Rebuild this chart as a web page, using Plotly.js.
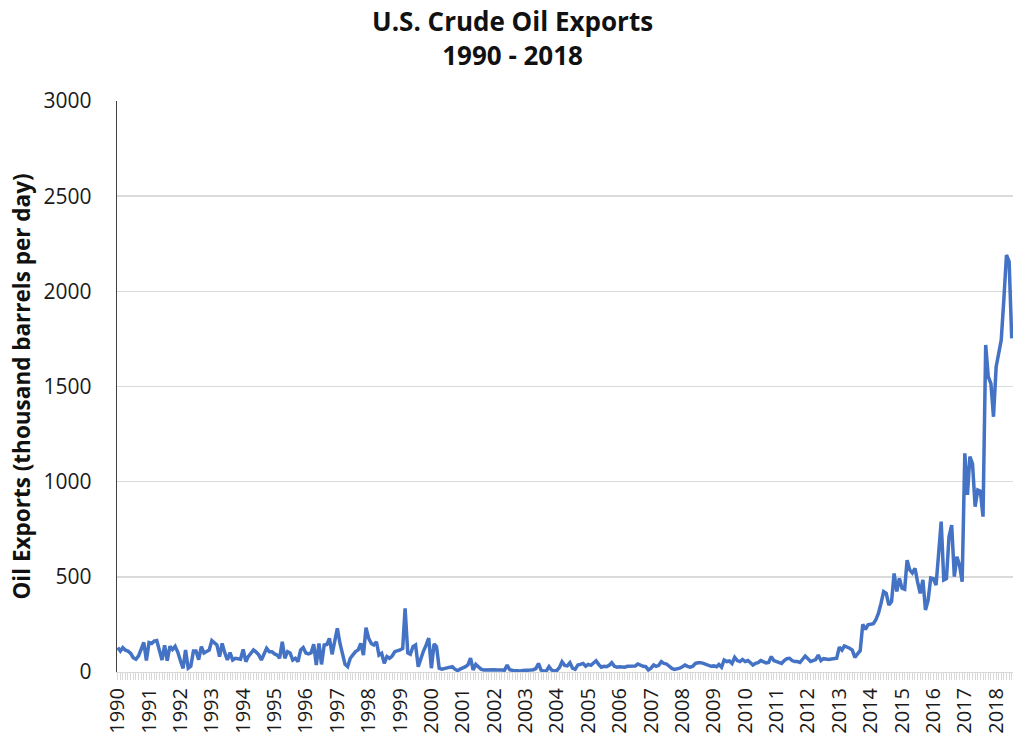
<!DOCTYPE html>
<html>
<head>
<meta charset="utf-8">
<script src="https://cdn.plot.ly/plotly-3.0.1.min.js"></script>
<style>html,body{margin:0;padding:0;overflow:hidden;background:#fff}</style>
</head>
<body>
<div id="chart" style="width:1013px;height:736px"></div>
<script>
// Monthly U.S. crude oil exports, thousand barrels per day
const startYear = 1990;
const y1990 = [128,110,128,115,110,98,75,67,85,120,155,60];
const y1991 = [155,150,162,165,120,63,140,60,135,118,135,105];
const y1992 = [60,19,116,20,30,110,110,65,133,100,108,115];
const y1993 = [165,150,142,81,150,100,63,102,63,72,70,67];
const y1994 = [119,54,81,100,116,105,90,63,95,124,107,107];
const y1995 = [95,89,72,159,72,107,100,63,72,54,116,128];
const y1996 = [100,95,100,146,37,150,40,142,145,177,93,160];
const y1997 = [230,150,100,40,28,72,90,107,116,150,89,233];
const y1998 = [177,150,142,159,89,98,46,81,72,84,107,110];
const y1999 = [116,124,335,100,93,133,142,28,72,110,142,178];
const y2000 = [20,147,133,20,15,18,20,22,28,15,7,15];
const y2001 = [20,28,37,73,11,40,28,15,11,12,10,12];
const y2002 = [12,10,8,10,9,37,12,8,6,7,5,8];
const y2003 = [8,6,10,12,18,45,10,5,6,28,10,6];
const y2004 = [8,25,54,35,32,49,20,14,37,40,45,30];
const y2005 = [40,35,45,59,40,25,30,28,35,49,30,25];
const y2006 = [28,28,25,30,32,30,32,42,35,30,28,11];
const y2007 = [20,37,30,35,54,45,42,30,19,14,15,20];
const y2008 = [28,37,30,25,30,45,48,49,45,40,35,30];
const y2009 = [32,28,40,25,63,55,58,45,77,60,55,66];
const y2010 = [55,60,50,37,45,49,60,55,48,50,81,60];
const y2011 = [55,50,45,60,70,72,60,55,55,50,68,84];
const y2012 = [70,55,60,65,89,60,70,66,66,68,70,72];
const y2013 = [130,115,137,132,125,115,77,95,112,250,224,248];
const y2014 = [250,254,273,308,360,422,413,352,370,518,423,492];
const y2015 = [440,435,588,536,520,545,474,413,484,326,378,494];
const y2016 = [490,457,615,790,483,490,711,772,501,606,560,474];
const y2017 = [1149,930,1131,1094,869,956,950,816,1718,1552,1515,1341];
const y2018 = [1604,1680,1744,1960,2191,2156,1753];

const yearly = [y1990,y1991,y1992,y1993,y1994,y1995,y1996,y1997,y1998,y1999,
  y2000,y2001,y2002,y2003,y2004,y2005,y2006,y2007,y2008,y2009,
  y2010,y2011,y2012,y2013,y2014,y2015,y2016,y2017,y2018];

const months = [], exportsKbd = [];
yearly.forEach((arr, i) => {
  arr.forEach((v, j) => {
    months.push((startYear + i) + '-' + String(j + 1).padStart(2, '0') + '-01');
    exportsKbd.push(v);
  });
});

const FONT = '"Open Sans", "DejaVu Sans", sans-serif';

const trace = {
  x: months, y: exportsKbd, type: 'scatter', mode: 'lines',
  line: {color: '#4472C4', width: 3.5}, hoverinfo: 'x+y'
};

const layout = {
  width: 1013, height: 736,
  margin: {l: 117, r: 0, t: 101, b: 64},
  paper_bgcolor: '#ffffff', plot_bgcolor: '#ffffff',
  showlegend: false,
  font: {family: FONT, color: '#1a1a1a'},
  title: {
    text: '<b>U.S. Crude Oil Exports</b><br><b>1990 - 2018</b>',
    font: {family: FONT, size: 26, color: '#111'},
    x: 0.506, xanchor: 'center', xref: 'container',
    y: 0.958, yanchor: 'top', yref: 'container'
  },
  xaxis: {
    type: 'date',
    range: ['1989-12-24', '2018-07-16'],
    tickmode: 'linear', tick0: '1990-01-01', dtick: 'M12',
    tickformat: '%Y', tickangle: -90,
    tickfont: {family: FONT, size: 20, color: '#1a1a1a'},
    ticks: 'outside', ticklen: 7, tickcolor: '#d9d9d9', tickwidth: 1,
    minor: {dtick: 'M1', tick0: '1990-01-01', ticks: 'outside', ticklen: 7, tickcolor: '#d9d9d9', tickwidth: 1, showgrid: false},
    showline: true, linecolor: '#d9d9d9', linewidth: 1,
    showgrid: false, zeroline: false, fixedrange: true
  },
  yaxis: {
    range: [0, 3000], tickmode: 'linear', tick0: 0, dtick: 500,
    tickfont: {family: FONT, size: 21, color: '#1a1a1a'},
    ticks: '', ticklabelstandoff: 20,
    showline: true, linecolor: '#404040', linewidth: 1.3,
    showgrid: true, gridcolor: '#dadada', gridwidth: 1.6,
    zeroline: false, fixedrange: true,
    title: {text: '<b>Oil Exports (thousand barrels per day)</b>', font: {family: FONT, size: 22.5, color: '#111'}, standoff: 6}
  }
};

Plotly.newPlot('chart', [trace], layout, {displayModeBar: false, staticPlot: true});
</script>
</body>
</html>
